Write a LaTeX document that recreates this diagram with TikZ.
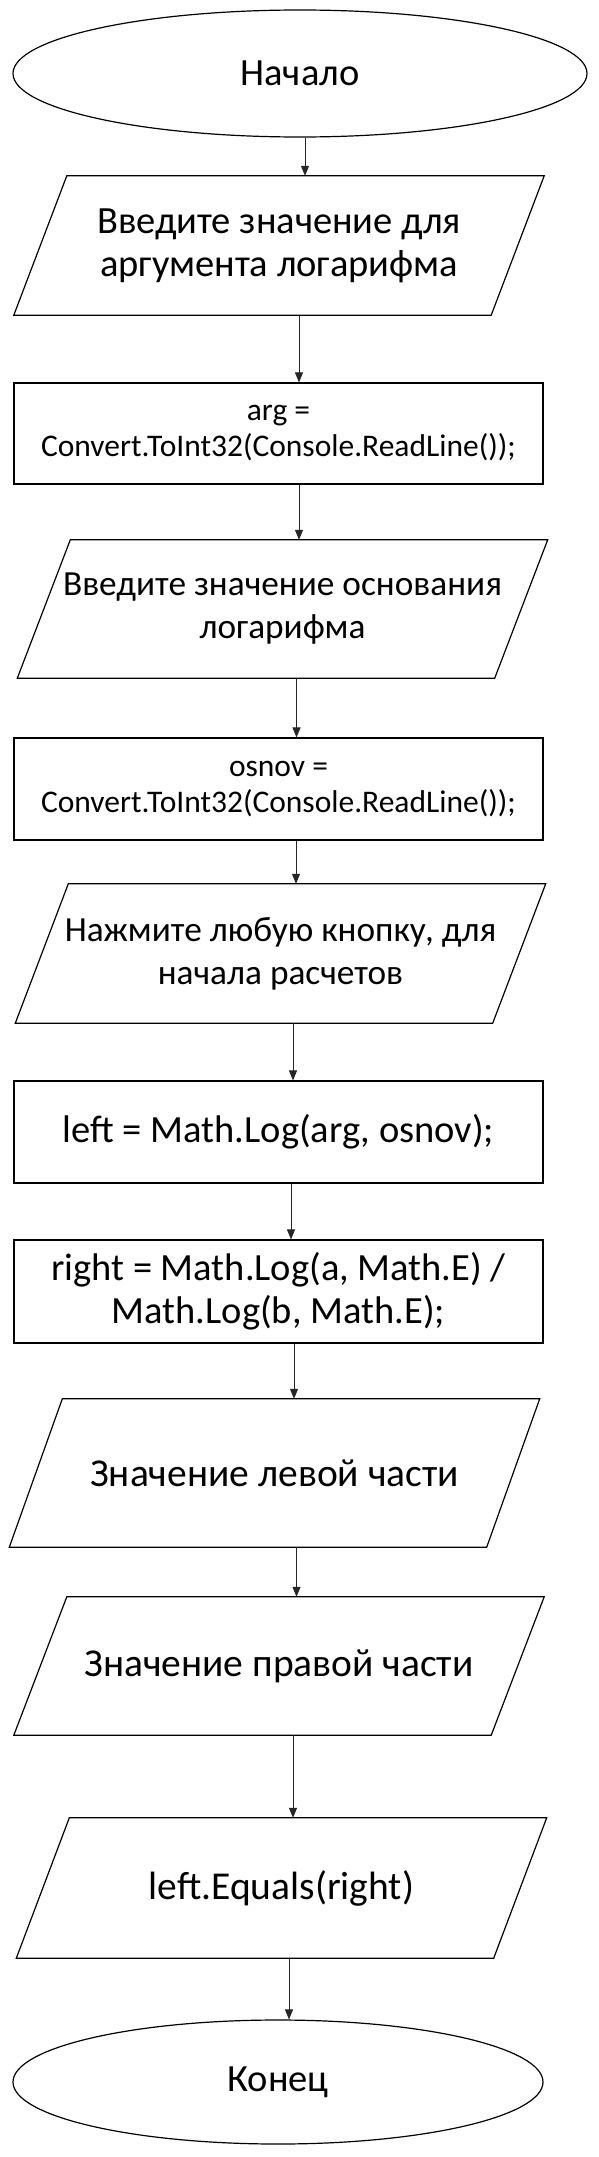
\documentclass[tikz,border=0pt]{standalone}
\usepackage{fontspec}
\setmainfont{Carlito}
\usetikzlibrary{shapes.geometric,arrows.meta}
\newcommand{\iopath}[1]{\draw[shp] ([xshift=26.5pt]#1.north west) -- ([xshift=26.5pt]#1.north east) -- ([xshift=-26.5pt]#1.south east) -- ([xshift=-26.5pt]#1.south west) -- cycle;}
\begin{document}
\begin{tikzpicture}[x=1pt,y=-1pt,
  shp/.style={draw=black, line width=1.2pt, line join=miter},
  bigtxt/.style={font=\fontsize{38.5}{43}\selectfont},
  largetxt/.style={font=\fontsize{39.5}{44}\selectfont},
  midtxt/.style={font=\fontsize{35.3}{43}\selectfont},
  smalltxt/.style={font=\fontsize{31.5}{36}\selectfont},
  term/.style={ellipse, shp, inner sep=0pt, bigtxt},
  proc/.style={rectangle, shp, minimum width=529pt, inner sep=0pt, align=center},
  iobox/.style={rectangle, draw=none, minimum width=477pt, inner sep=0pt, align=center, bigtxt},
  arr/.style={draw=black!85, line width=1pt, -{Triangle[length=10pt,width=8pt]}}]
\useasboundingbox (0,0) rectangle (598,2157);
\fill[white] (0,0) rectangle (598,2157);

\node[term, minimum width=574pt, minimum height=127pt] (e1) at (300,73.5) {Начало};
\node[iobox, minimum height=139pt] (p1) at (279,245.5) {Введите значение для\\аргумента логарифма};
\node[proc, smalltxt, minimum height=101pt] (r1) at (278.5,433.5) {arg =\\Convert.ToInt32(Console.ReadLine());};
\node[iobox, midtxt, minimum height=138pt] (p2) at (282.5,609) {Введите значение основания\\логарифма};
\node[proc, smalltxt, minimum height=102pt] (r2) at (278.5,789) {osnov =\\Convert.ToInt32(Console.ReadLine());};
\node[iobox, midtxt, minimum height=139pt] (p3) at (280.5,953.5) {Нажмите любую кнопку, для\\начала расчетов};
\node[proc, bigtxt, minimum height=102pt] (r3) at (278.5,1132) {left = Math.Log(arg, osnov);};
\node[proc, bigtxt, minimum height=103pt] (r4) at (278.5,1291.5) {right = Math.Log(a, Math.E) /\\Math.Log(b, Math.E);};
\node[iobox, largetxt, minimum height=148pt] (p4) at (274.5,1473) {Значение левой части};
\node[iobox, largetxt, minimum height=138pt] (p5) at (279,1666) {Значение правой части};
\node[iobox, largetxt, minimum height=140pt] (p6) at (281.5,1888) {left.Equals(right)};
\node[term, minimum width=530pt, minimum height=124pt] (e2) at (278,2082) {Конец};

\iopath{p1}
\iopath{p2}
\iopath{p3}
\iopath{p4}
\iopath{p5}
\iopath{p6}

\draw[arr] ([xshift=5pt]e1.south) -- ([xshift=26pt]p1.north);
\draw[arr] ([xshift=20pt]p1.south) -- ([xshift=20.5pt]r1.north);
\draw[arr] ([xshift=20.5pt]r1.south) -- ([xshift=16.5pt]p2.north);
\draw[arr] ([xshift=14pt]p2.south) -- ([xshift=18pt]r2.north);
\draw[arr] ([xshift=17.5pt]r2.south) -- ([xshift=15.5pt]p3.north);
\draw[arr] ([xshift=12.5pt]p3.south) -- ([xshift=14.5pt]r3.north);
\draw[arr] ([xshift=12.5pt]r3.south) -- ([xshift=12.5pt]r4.north);
\draw[arr] ([xshift=15.5pt]r4.south) -- ([xshift=19.5pt]p4.north);
\draw[arr] ([xshift=22pt]p4.south) -- ([xshift=17.5pt]p5.north);
\draw[arr] ([xshift=14pt]p5.south) -- ([xshift=11.5pt]p6.north);
\draw[arr] ([xshift=7.5pt]p6.south) -- ([xshift=11pt]e2.north);
\end{tikzpicture}
\end{document}
